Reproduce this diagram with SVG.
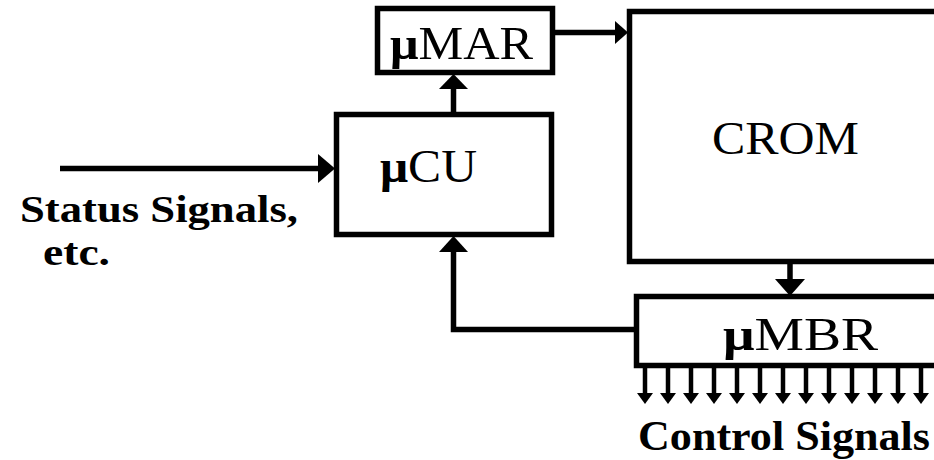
<svg xmlns="http://www.w3.org/2000/svg" xmlns:xlink="http://www.w3.org/1999/xlink" width="934" height="460" viewBox="0 0 934 460">
<style>
.box{fill:#fff;stroke:#000;stroke-width:5.5}
.ln{fill:none;stroke:#000;stroke-width:5.5}
.sl{fill:none;stroke:#000;stroke-width:4.5}
.ah{fill:#000;stroke:none}
.lbl{font-family:"Liberation Serif","Times New Roman",serif;font-size:46px;fill:#000}
.b{font-weight:bold}
.cap{font-family:"Liberation Serif","Times New Roman",serif;font-size:42px;font-weight:bold;fill:#000}
.st{font-size:38px}
</style>
<defs>
<g id="sig"><line class="sl" x1="0" y1="368" x2="0" y2="396"/><polygon class="ah" points="-8,393 8,393 0,404"/></g>
</defs>
<rect width="934" height="460" fill="#fff"/>
<g id="connectors">
<line class="ln" x1="555" y1="32.5" x2="617" y2="32.5"/>
<polygon class="ah" points="628,32.5 615,21 615,44"/>
<line class="ln" x1="453.5" y1="114" x2="453.5" y2="85"/>
<polygon class="ah" points="453.5,74 439,89 468,89"/>
<line class="ln" x1="60" y1="168.5" x2="322" y2="168.5"/>
<polygon class="ah" points="335,168.5 318,154 318,183"/>
<polyline class="ln" points="637,329.5 453.5,329.5 453.5,248"/>
<polygon class="ah" points="453.5,236 439,252 468,252"/>
<line class="ln" x1="790" y1="262" x2="790" y2="282"/>
<polygon class="ah" points="790,296 775,279 805,279"/>
<g id="control-arrows">
<use xlink:href="#sig" x="645"/><use xlink:href="#sig" x="668"/><use xlink:href="#sig" x="691"/><use xlink:href="#sig" x="714"/><use xlink:href="#sig" x="737"/><use xlink:href="#sig" x="760"/><use xlink:href="#sig" x="783"/><use xlink:href="#sig" x="806"/><use xlink:href="#sig" x="829"/><use xlink:href="#sig" x="852"/><use xlink:href="#sig" x="875"/><use xlink:href="#sig" x="898"/><use xlink:href="#sig" x="921"/>
</g>
</g>
<g id="uMAR">
<rect class="box" x="377.5" y="8.5" width="175" height="64"/>
<text class="lbl" x="390" y="59" font-size="48" textLength="143" lengthAdjust="spacingAndGlyphs"><tspan class="b">μ</tspan>MAR</text>
</g>
<g id="uCU">
<rect class="box" x="336.5" y="114.5" width="215" height="120"/>
<text class="lbl" x="380" y="182" font-size="44" textLength="97" lengthAdjust="spacingAndGlyphs"><tspan class="b">μ</tspan>CU</text>
</g>
<g id="CROM">
<rect class="box" x="629.5" y="11.5" width="400" height="250"/>
<text class="lbl" x="712" y="154" textLength="147" lengthAdjust="spacingAndGlyphs">CROM</text>
</g>
<g id="uMBR">
<rect class="box" x="636.5" y="296.5" width="400" height="69"/>
<text class="lbl" x="723" y="350" font-size="44" textLength="155" lengthAdjust="spacingAndGlyphs"><tspan class="b">μ</tspan>MBR</text>
</g>
<g id="status-label">
<text class="cap st" x="20" y="222" textLength="278" lengthAdjust="spacingAndGlyphs">Status Signals,</text>
<text class="cap st" x="43" y="265" textLength="67" lengthAdjust="spacingAndGlyphs">etc.</text>
</g>
<g id="control-label">
<text class="cap" x="638" y="450" font-size="46" textLength="292" lengthAdjust="spacingAndGlyphs">Control Signals</text>
</g>
</svg>
